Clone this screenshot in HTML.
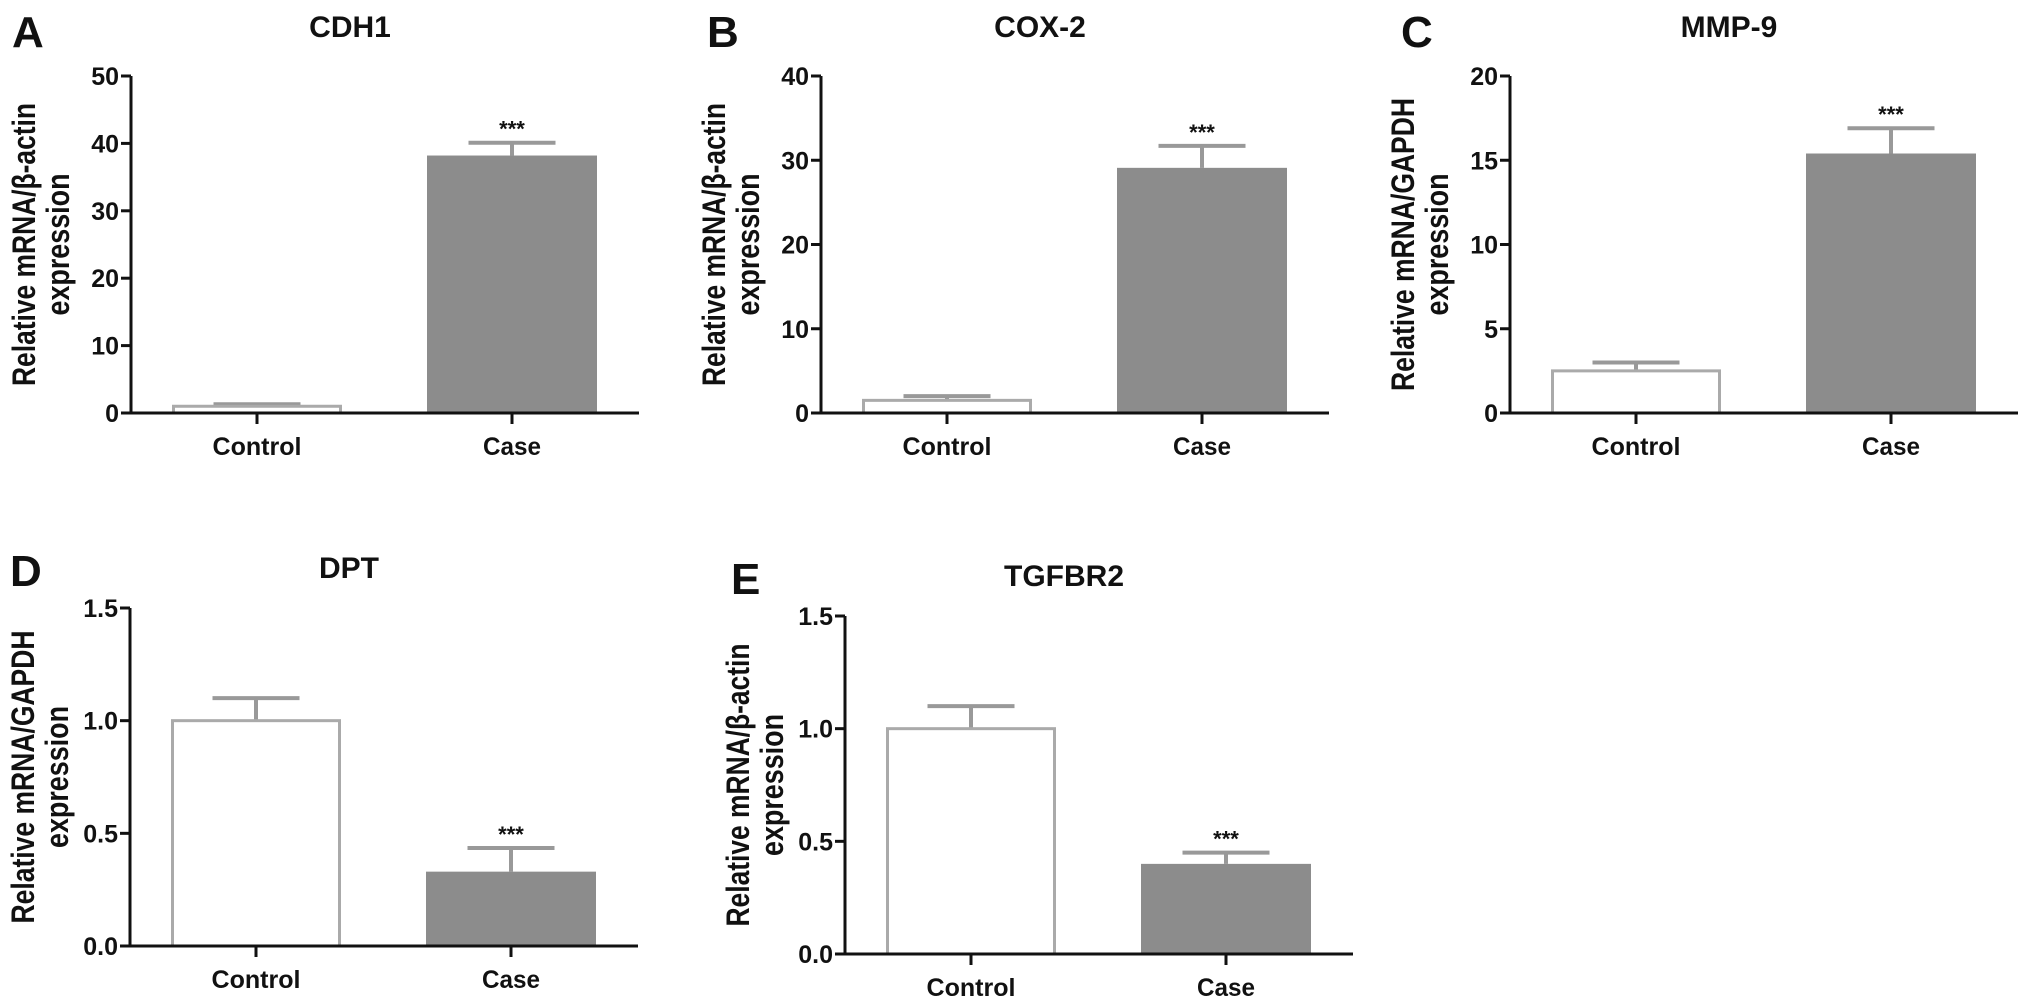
<!DOCTYPE html>
<html>
<head>
<meta charset="utf-8">
<style>
  html, body { margin: 0; padding: 0; background: #fff; }
  svg { display: block; font-family: "Liberation Sans", Arial, sans-serif; }
  text { font-weight: bold; fill: #111; }
</style>
</head>
<body>
<svg id="fig" width="2031" height="1004" viewBox="0 0 2031 1004" xmlns="http://www.w3.org/2000/svg"></svg>
<script>
// ---- data ----
const categories = ["Control", "Case"];
const panelIds = ["A", "B", "C", "D", "E"];
const panelTitles = ["CDH1", "COX-2", "MMP-9", "DPT", "TGFBR2"];
const yAxisTitles = ["Relative mRNA/β-actin", "Relative mRNA/β-actin", "Relative mRNA/GAPDH", "Relative mRNA/GAPDH", "Relative mRNA/β-actin"];
const controlMeans = [1.0, 1.5, 2.5, 1.0, 1.0];
const controlErrors = [0.3, 0.5, 0.5, 0.1, 0.1];
const caseMeans = [38.2, 29.1, 15.4, 0.33, 0.40];
const caseErrors = [1.9, 2.6, 1.5, 0.105, 0.05];
const yMaxes = [50, 40, 20, 1.5, 1.5];
const tickValuesA = [0, 10, 20, 30, 40, 50];
const tickValuesB = [0, 10, 20, 30, 40];
const tickValuesC = [0, 5, 10, 15, 20];
const tickValuesD = [0, 0.5, 1.0, 1.5];
const tickValuesE = [0, 0.5, 1.0, 1.5];
const tickLabelsA = ["0", "10", "20", "30", "40", "50"];
const tickLabelsB = ["0", "10", "20", "30", "40"];
const tickLabelsC = ["0", "5", "10", "15", "20"];
const tickLabelsD = ["0.0", "0.5", "1.0", "1.5"];
const tickLabelsE = ["0.0", "0.5", "1.0", "1.5"];
const significance = ["***", "***", "***", "***", "***"];

// ---- layout (pixel geometry, not data) ----
const layout = [
  {ax: 131,  top: 76,  bot: 413, titleY: 37,  letterX: 12,  letterY: 47,  yl1: 283},
  {ax: 821,  top: 76,  bot: 413, titleY: 37,  letterX: 707, letterY: 47,  yl1: 283},
  {ax: 1510, top: 76,  bot: 413, titleY: 37,  letterX: 1401, letterY: 47, yl1: 293},
  {ax: 130,  top: 608, bot: 946, titleY: 578, letterX: 10,  letterY: 586, yl1: 293},
  {ax: 845,  top: 616, bot: 954, titleY: 586, letterX: 731, letterY: 594, yl1: 283}
];
const ticksAll = [tickValuesA, tickValuesB, tickValuesC, tickValuesD, tickValuesE];
const tickLabelsAll = [tickLabelsA, tickLabelsB, tickLabelsC, tickLabelsD, tickLabelsE];

const NS = "http://www.w3.org/2000/svg";
const svg = document.getElementById("fig");
function mk(tag, attrs, parent) {
  const e = document.createElementNS(NS, tag);
  for (const k in attrs) e.setAttribute(k, attrs[k]);
  (parent || svg).appendChild(e);
  return e;
}

panelIds.forEach((pid, i) => {
  const L = layout[i];
  const g = mk("g", {});
  
  
  const yScale = v => L.bot - (v / yMaxes[i]) * (L.bot - L.top);
  const xCenter = k => L.ax + 126 + k * 255;
  const barW = 170;

  // panel letter
  const letter = mk("text", {x: L.letterX, y: L.letterY, "font-size": 44}, g);
  letter.textContent = pid;
  
  

  // title
  const t = mk("text", {x: L.ax + 219, y: L.titleY, "font-size": 30, "text-anchor": "middle"}, g);
  t.textContent = panelTitles[i];
  
  

  // y axis title (two lines, rotated)
  const cy = (L.top + L.bot) / 2;
  const yt1 = mk("text", {x: 0, y: 0, "font-size": 32, "text-anchor": "middle", textLength: L.yl1, lengthAdjust: "spacingAndGlyphs",
    transform: `translate(${L.ax - 96},${cy}) rotate(-90)`}, g);
  yt1.textContent = yAxisTitles[i];
  
  
  const yt2 = mk("text", {x: 0, y: 0, "font-size": 32, "text-anchor": "middle", textLength: 142, lengthAdjust: "spacingAndGlyphs",
    transform: `translate(${L.ax - 62},${cy}) rotate(-90)`}, g);
  yt2.textContent = "expression";
  
  

  // bars
  const means = [controlMeans[i], caseMeans[i]];
  const errs = [controlErrors[i], caseErrors[i]];
  means.forEach((m, k) => {
    const xc = xCenter(k);
    const yTopBar = yScale(m);
    const yErr = yScale(m + errs[k]);
    const eb = mk("path", {d: `M${xc},${yTopBar} V${yErr} M${xc - 43.5},${yErr} H${xc + 43.5}`, stroke: "#999", "stroke-width": 4, fill: "none"}, g);
    
    
    let bar;
    if (k === 0) {
      bar = mk("rect", {x: xc - barW / 2 + 1.5, y: yTopBar, width: barW - 3, height: L.bot - yTopBar, fill: "#fff", stroke: "#aaa", "stroke-width": 3}, g);
    } else {
      bar = mk("rect", {x: xc - barW / 2, y: yTopBar, width: barW, height: L.bot - yTopBar, fill: "#8c8c8c"}, g);
      const s = mk("text", {x: xc, y: yErr - 6, "font-size": 22, "text-anchor": "middle", fill: "#333"}, g);
      s.textContent = significance[i];
      
      
    }
    
    

    // x tick + label
    const xt = mk("line", {x1: xc, y1: L.bot, x2: xc, y2: L.bot + 11, stroke: "#111", "stroke-width": 3}, g);
    
    
    const xl = mk("text", {x: xc, y: L.bot + 42, "font-size": 25, "text-anchor": "middle", textLength: k === 0 ? 89 : 58, lengthAdjust: "spacingAndGlyphs"}, g);
    xl.textContent = categories[k];
    
    
  });

  // axes
  const yAxis = mk("line", {x1: L.ax, y1: L.top, x2: L.ax, y2: L.bot + 1.5, stroke: "#111", "stroke-width": 3}, g);
  
  
  const xAxis = mk("line", {x1: L.ax - 1.5, y1: L.bot, x2: L.ax + 508, y2: L.bot, stroke: "#111", "stroke-width": 3}, g);
  
  

  ticksAll[i].forEach((v, j) => {
    const y = yScale(v);
    const tk = mk("line", {x1: L.ax - 10, y1: y, x2: L.ax, y2: y, stroke: "#111", "stroke-width": 3}, g);
    
    
    const tl = mk("text", {x: L.ax - 12, y: y + 9, "font-size": 25, "text-anchor": "end"}, g);
    tl.textContent = tickLabelsAll[i][j];
    
    
  });
});
</script>
</body>
</html>
